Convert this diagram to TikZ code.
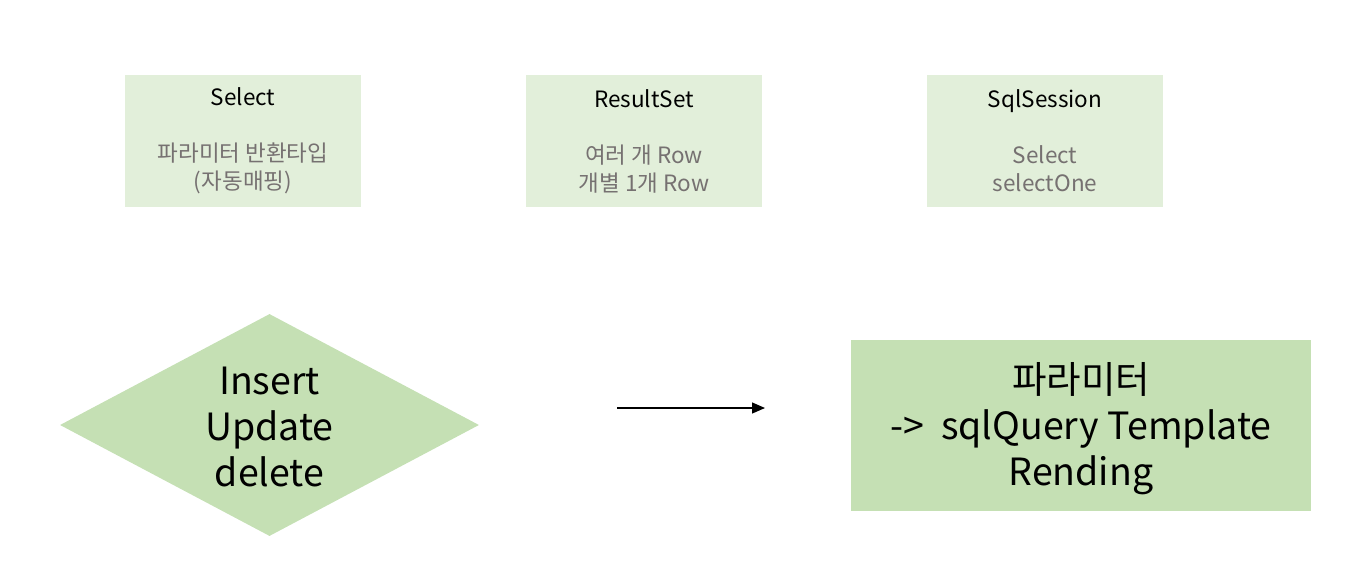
\documentclass[tikz,border=0pt]{standalone}
\usepackage{fontspec}
\setmainfont{Noto Sans CJK KR}
\usetikzlibrary{shapes.geometric,arrows.meta}
\definecolor{lightgreen}{HTML}{E2EFDA}
\definecolor{midgreen}{HTML}{C5E0B4}
\definecolor{graytext}{HTML}{767171}
\tikzset{
  topbox/.style={fill=lightgreen, draw=none, minimum width=236pt, minimum height=132pt, inner sep=0pt, align=center, font=\fontsize{22.5}{28}\selectfont},
  bigshape/.style={fill=midgreen, draw=none, inner sep=0pt, align=center, font=\fontsize{37.5}{46}\selectfont},
  flow/.style={line width=1.2pt, -{Triangle[length=13pt,width=11pt]}}
}
\begin{document}
\begin{tikzpicture}[x=1pt,y=-1pt]
\useasboundingbox (0,0) rectangle (1370,562);
\node[topbox] (select) at (243,141) {Select\\ \\ \textcolor{graytext}{파라미터 반환타입}\\ \textcolor{graytext}{(자동매핑)}};
\node[topbox] (resultset) at (644,141) {ResultSet\\ \\ \textcolor{graytext}{여러 개 Row}\\ \textcolor{graytext}{개별 1개 Row}};
\node[topbox] (sqlsession) at (1045,141) {SqlSession\\ \\ \textcolor{graytext}{Select}\\ \textcolor{graytext}{selectOne}};
\node[bigshape, diamond, aspect=1.887, minimum width=419pt, minimum height=222pt] (dml) at (269.5,425) {};
\node[bigshape] (dmltext) at ([yshift=-1.5pt]dml.center) {Insert\\Update\\delete};
\node[bigshape, rectangle, minimum width=460pt, minimum height=171pt] (render) at (1081,425.5) {};
\node[bigshape] (rendertext) at ([yshift=-3pt]render.center) {파라미터\\->\ \ sqlQuery Template\\Rending};
\coordinate (a1) at (617,408);
\coordinate (a2) at (765,408);
\draw[flow] (a1) -- (a2);
\end{tikzpicture}
\end{document}
